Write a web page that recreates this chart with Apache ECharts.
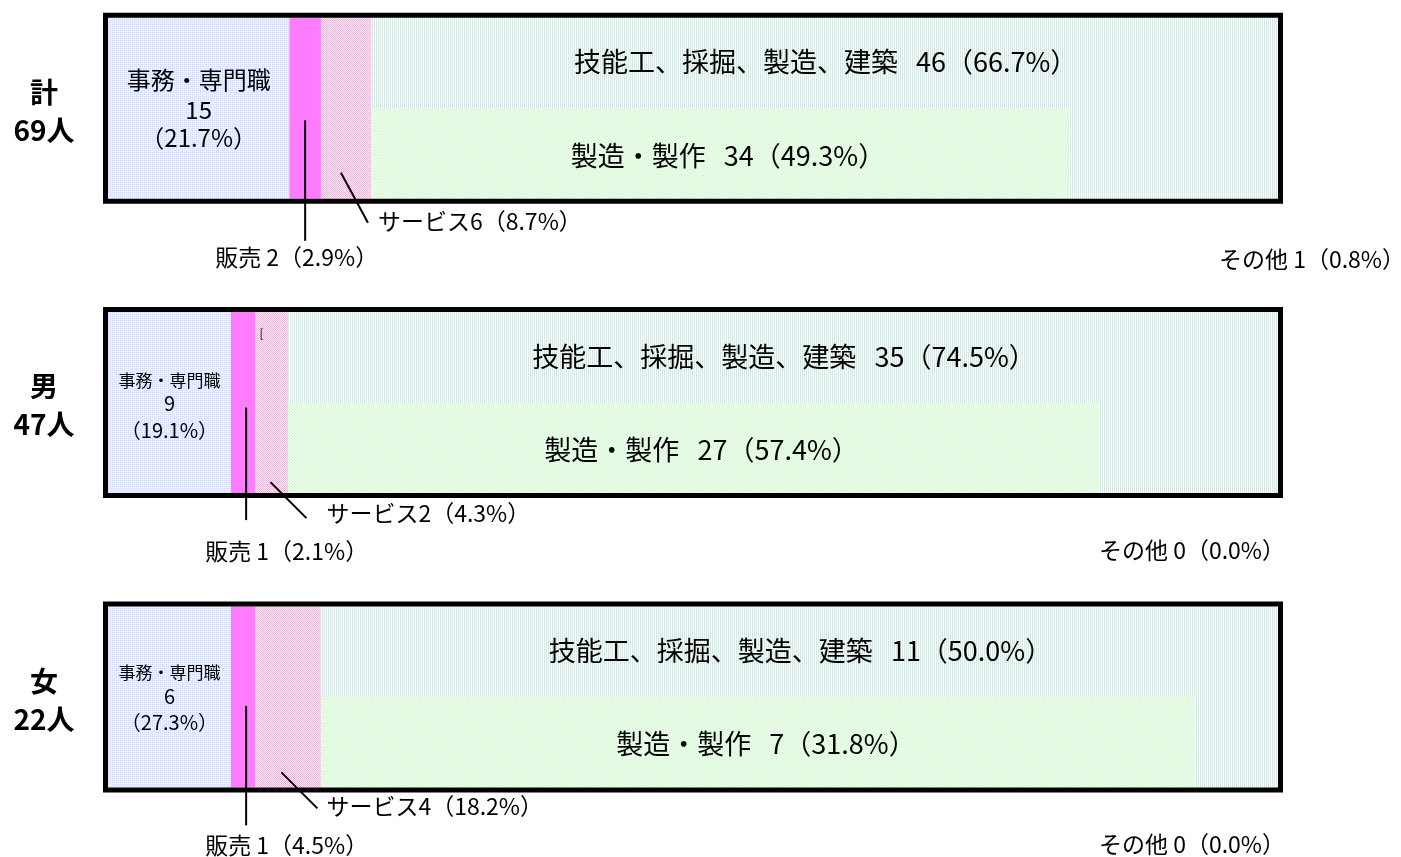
<!DOCTYPE html>
<html>
<head>
<meta charset="utf-8">
<script src="https://cdn.jsdelivr.net/npm/echarts@6/dist/echarts.min.js"></script>
<style>
html,body{margin:0;padding:0;background:#fff;}
#c{width:1401px;height:857px;}
</style>
</head>
<body>
<div id="c"></div>
<script>
// ---- data ----
const rows = ['計', '男', '女'];
const totals = [69, 47, 22];

// drawn share of each segment along the box (percent of box width, as drawn)
const clericalLen = [15.5, 10.5, 10.5];
const salesLen    = [2.7, 2.1, 2.1];
const serviceLen  = [4.3, 2.8, 5.6];
const skilledLen  = [77.5, 84.6, 81.8];
const manufLen    = [59.6, 69.3, 74.7];

// counts and percentages shown in labels
const clericalN = [15, 9, 6];      const clericalPct = ['21.7', '19.1', '27.3'];
const salesN    = [2, 1, 1];       const salesPct    = ['2.9', '2.1', '4.5'];
const serviceN  = [6, 2, 4];       const servicePct  = ['8.7', '4.3', '18.2'];
const skilledN  = [46, 35, 11];    const skilledPct  = ['66.7', '74.5', '50.0'];
const manufN    = [34, 27, 7];     const manufPct    = ['49.3', '57.4', '31.8'];
const otherN    = [1, 0, 0];       const otherPct    = ['0.8', '0.0', '0.0'];
const strayMark = ['', '[', ''];

// ---- styling ----
const FONT = '"Noto Sans CJK JP", "Noto Sans CJK SC", sans-serif';
function pattern(w, h, cells) {
  const c = document.createElement('canvas');
  c.width = w; c.height = h;
  const g = c.getContext('2d');
  for (let y = 0; y < h; y++) for (let x = 0; x < w; x++) {
    g.fillStyle = cells[y][x];
    g.fillRect(x, y, 1, 1);
  }
  return { image: c, repeat: 'repeat' };
}
const fills = {
  clerical: pattern(2, 2, [['#d6dffd', '#e4eaff'], ['#e4eaff', '#f4f6ff']]),
  sales: '#ff7cff',
  service: pattern(2, 2, [['#ffa8dc', '#fff4fb'], ['#fff4fb', '#ffa8dc']]),
  skilled: pattern(2, 1, [['#d8e6e4', '#fcfdfd']]),
  manuf: pattern(3, 3, [['#cff8cf', '#eeffee', '#eeffee'], ['#eeffee', '#cff8cf', '#eeffee'], ['#eeffee', '#eeffee', '#cff8cf']])
};
const layout = [
  { clerFont: 24, numFont: 24, clerDy: [-28, 2, 30], salesX: 0, salesTop: 12, salesBot: 42, salesLabelDx: -90,
    svcSx: 20, svcSy: -26, svcDx: 27, svcDy: 50, svcLx: 10, svcLy: 22, otherDx: 127, otherDy: 60 },
  { clerFont: 17, numFont: 20, clerDy: [-22, 1, 28], salesX: 3, salesTop: 5, salesBot: 27, salesLabelDx: -41,
    svcSx: 15, svcSy: -11, svcDx: 36, svcDy: 36, svcLx: 20, svcLy: 20, otherDx: 7, otherDy: 57 },
  { clerFont: 17, numFont: 20, clerDy: [-24, 0, 26], salesX: 3, salesTop: 9, salesBot: 38, salesLabelDx: -41,
    svcSx: 26, svcSy: -15, svcDx: 36, svcDy: 36, svcLx: 9, svcLy: 19, otherDx: 7, otherDy: 57 }
];

function text(x, y, str, size, align, weight) {
  return {
    type: 'text',
    style: {
      x: x, y: y, text: str, fill: '#000',
      font: (weight || 'normal') + ' ' + size + 'px ' + FONT,
      align: align || 'center', verticalAlign: 'middle'
    }
  };
}
function rect(x0, x1, y0, y1, fill) {
  return { type: 'rect', shape: { x: x0, y: y0, width: x1 - x0, height: y1 - y0 }, style: { fill: fill } };
}
function line(x1, y1, x2, y2) {
  return { type: 'line', shape: { x1: x1, y1: y1, x2: x2, y2: y2 }, style: { stroke: '#000', lineWidth: 2 } };
}

function renderItem(params, api) {
  const i = api.value(1);
  const cy = api.coord([0, i])[1];
  const unitH = api.size([0, 1])[1];
  const h = unitH * 0.615;
  const top = cy - h / 2, bot = cy + h / 2;
  const X = v => api.coord([v, i])[0];
  const b0 = 0, b1 = clericalLen[i], b2 = b1 + salesLen[i], b3 = b2 + serviceLen[i], b4 = b3 + skilledLen[i];
  const bm = b3 + manufLen[i];
  const L = layout[i];
  const ch = [];
  ch.push(rect(X(b0), X(b1), top, bot, fills.clerical));
  ch.push(rect(X(b1), X(b2), top, bot, fills.sales));
  ch.push(rect(X(b2), X(b3), top, bot, fills.service));
  ch.push(rect(X(b3), X(b4), top, bot, fills.skilled));
  ch.push(rect(X(b3), X(bm), top + h / 2, bot, fills.manuf));
  ch.push({ type: 'rect', shape: { x: X(0) - 2.5, y: top - 2.5, width: X(100) - X(0) + 5, height: h + 5 },
            style: { fill: 'none', stroke: '#000', lineWidth: 5 } });
  // row label
  ch.push(text(X(0) - 64, cy - 16, rows[i], 28, 'center', 'bold'));
  ch.push(text(X(0) - 64, cy + 22, totals[i] + '人', 28, 'center', 'bold'));
  // clerical label
  const ccx = (X(b0) + X(b1)) / 2;
  ch.push(text(ccx, cy + L.clerDy[0], '事務・専門職', L.clerFont));
  ch.push(text(ccx, cy + L.clerDy[1], String(clericalN[i]), L.numFont));
  ch.push(text(ccx, cy + L.clerDy[2], '（' + clericalPct[i] + '%）', L.numFont));
  // skilled label
  ch.push(text((X(b3) + X(b4)) / 2 + 1, top + h * 0.245, '技能工、採掘、製造、建築   ' + skilledN[i] + '（' + skilledPct[i] + '%）', 27));
  // manufacturing label
  ch.push(text((X(b3) + X(bm)) / 2 + 8, top + h * 0.75 + 2, '製造・製作   ' + manufN[i] + '（' + manufPct[i] + '%）', 27));
  // sales callout
  const sx = (X(b1) + X(b2)) / 2 + L.salesX;
  ch.push(line(sx, cy + L.salesTop, sx, bot + L.salesBot));
  ch.push(text(sx + L.salesLabelDx, bot + 58, '販売 ' + salesN[i] + '（' + salesPct[i] + '%）', 23, 'left'));
  // service callout
  const vx = X(b2) + L.svcSx, vy = bot + L.svcSy;
  ch.push(line(vx, vy, vx + L.svcDx, vy + L.svcDy));
  ch.push(text(vx + L.svcDx + L.svcLx, bot + L.svcLy, 'サービス' + serviceN[i] + '（' + servicePct[i] + '%）', 23, 'left'));
  // other label
  ch.push(text(X(100) + L.otherDx, bot + L.otherDy, 'その他 ' + otherN[i] + '（' + otherPct[i] + '%）', 23, 'right'));
  if (strayMark[i]) ch.push(text(X(b2) + 6, top + 21, strayMark[i], 12, 'center'));
  return { type: 'group', children: ch };
}

const chart = echarts.init(document.getElementById('c'), null, { renderer: 'canvas' });
chart.setOption({
  animation: false,
  backgroundColor: '#ffffff',
  grid: { left: 108, right: 123, top: 0, bottom: 0, containLabel: false },
  xAxis: { type: 'value', min: 0, max: 100, show: false },
  yAxis: { type: 'value', inverse: true, min: -0.368, max: 2.544, show: false },
  series: [{
    type: 'custom',
    clip: false,
    renderItem: renderItem,
    data: rows.map((r, i) => [0, i])
  }]
});
</script>
</body>
</html>
